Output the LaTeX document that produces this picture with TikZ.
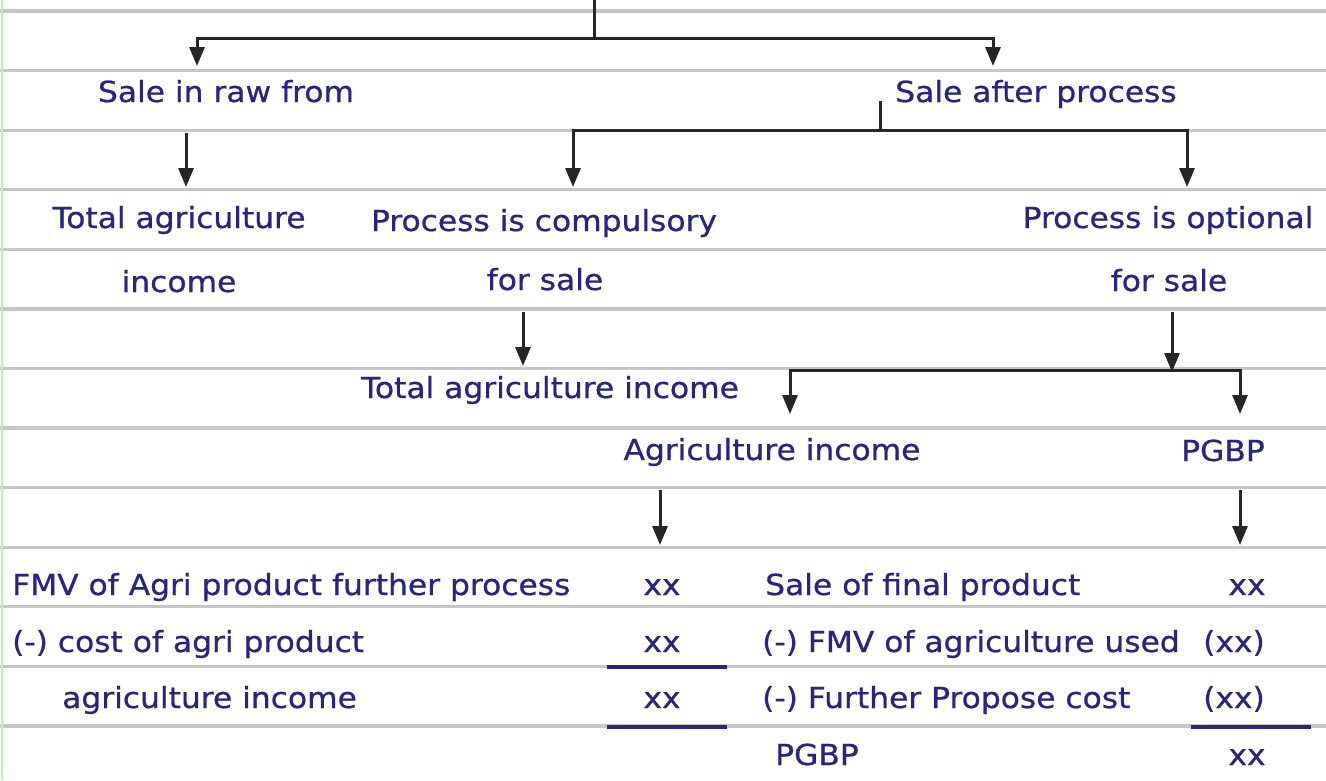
\documentclass[tikz,border=0pt]{standalone}
\usepackage{fontspec}
\setmainfont{DejaVu Sans}[FakeStretch=1.08, FakeBold=0.7]
\usetikzlibrary{arrows.meta}
\definecolor{ink}{RGB}{38,38,130}
\definecolor{rulegray}{RGB}{198,198,198}
\definecolor{margingreen}{RGB}{190,240,180}
\tikzset{
  rule/.style={draw=rulegray, line width=3.2pt},
  txt/.style={text=ink, inner sep=0pt, font=\fontsize{29}{34}\selectfont, anchor=base},
  ltxt/.style={txt, anchor=base west},
  conn/.style={draw=black!85, line width=3pt},
  arr/.style={conn, -{Triangle[length=19pt,width=15pt]}},
  uline/.style={draw=ink, line width=3.4pt}
}
\begin{document}
\begin{tikzpicture}[x=1pt,y=-1pt]
\useasboundingbox (0,0) rectangle (1326,780);
\fill[white] (0,0) rectangle (1326,780);
% notebook rules
\foreach \k in {0,...,12}{
  \draw[rule] (0,{11+59.58*\k}) -- (1326,{11+59.58*\k});
}
\draw[margingreen, line width=2.5pt] (2,0) -- (2,780);

% texts
\node[txt] (raw) at (226,102) {Sale in raw from};
\node[txt] (after) at (1036,102) {Sale after process};
\node[txt] (tai) at (179,228) {Total agriculture};
\node[txt] (tai2) at (179,292) {income};
\node[txt] (comp) at (544,231) {Process is compulsory};
\node[txt] (comp2) at (545,290) {for sale};
\node[txt] (opt) at (1168,228) {Process is optional};
\node[txt] (opt2) at (1169,291) {for sale};
\node[txt] (tai3) at (550,398) {Total agriculture income};
\node[txt] (agi) at (772,460) {Agriculture income};
\node[txt] (pgbp) at (1223,461) {PGBP};

\node[ltxt] (r1a) at (12,595) {FMV of Agri product further process};
\node[txt] (r1b) at (662,595) {xx};
\node[ltxt] (r1c) at (765,595) {Sale of final product};
\node[txt] (r1d) at (1247,595) {xx};
\node[ltxt] (r2a) at (12,652) {(-) cost of agri product};
\node[txt] (r2b) at (662,652) {xx};
\node[ltxt] (r2c) at (762,652) {(-) FMV of agriculture used};
\node[txt] (r2d) at (1234,652) {(xx)};
\node[ltxt] (r3a) at (62,708) {agriculture income};
\node[txt] (r3b) at (662,708) {xx};
\node[ltxt] (r3c) at (762,708) {(-) Further Propose cost};
\node[txt] (r3d) at (1234,708) {(xx)};
\node[ltxt] (r4c) at (775,765) {PGBP};
\node[txt] (r4d) at (1247,765) {xx};

% connector coordinates
\coordinate (top) at (594,0);
\coordinate (j1) at (594,38);
\coordinate (t-raw) at (197,66);
\coordinate (t-after) at (993,66);
\coordinate (s-after) at (880,101);
\coordinate (j2) at (880,130);
\coordinate (t-comp) at (573,187);
\coordinate (t-opt) at (1187,187);
\coordinate (s-raw) at (186,133);
\coordinate (t-tai) at (186,187);
\coordinate (s-comp) at (523,312);
\coordinate (t-tai3) at (523,366);
\coordinate (s-opt) at (1172,312);
\coordinate (j3) at (1172,370);
\coordinate (t-agi) at (790,414);
\coordinate (t-pgbp) at (1240,414);
\coordinate (s-agi) at (660,490);
\coordinate (t-r1b) at (660,545);
\coordinate (s-pgbp) at (1240,490);
\coordinate (t-r1d) at (1240,545);

% connectors
\draw[conn] (top) -- (j1);
\draw[arr] (j1) -| (t-raw);
\draw[arr] (j1) -| (t-after);
\draw[conn] (s-after) -- (j2);
\draw[arr] (j2) -| (t-comp);
\draw[arr] (j2) -| (t-opt);
\draw[arr] (s-raw) -- (t-tai);
\draw[arr] (s-comp) -- (t-tai3);
\draw[arr] (s-opt) -- ([yshift=-2pt]j3);
\draw[arr] (j3) -| (t-agi);
\draw[arr] (j3) -| (t-pgbp);
\draw[arr] (s-agi) -- (t-r1b);
\draw[arr] (s-pgbp) -- (t-r1d);

% totals underlines
\draw[uline] (607,667) -- (727,667);
\draw[uline] (607,727) -- (727,727);
\draw[uline] (1191,727) -- (1311,727);
\end{tikzpicture}
\end{document}
